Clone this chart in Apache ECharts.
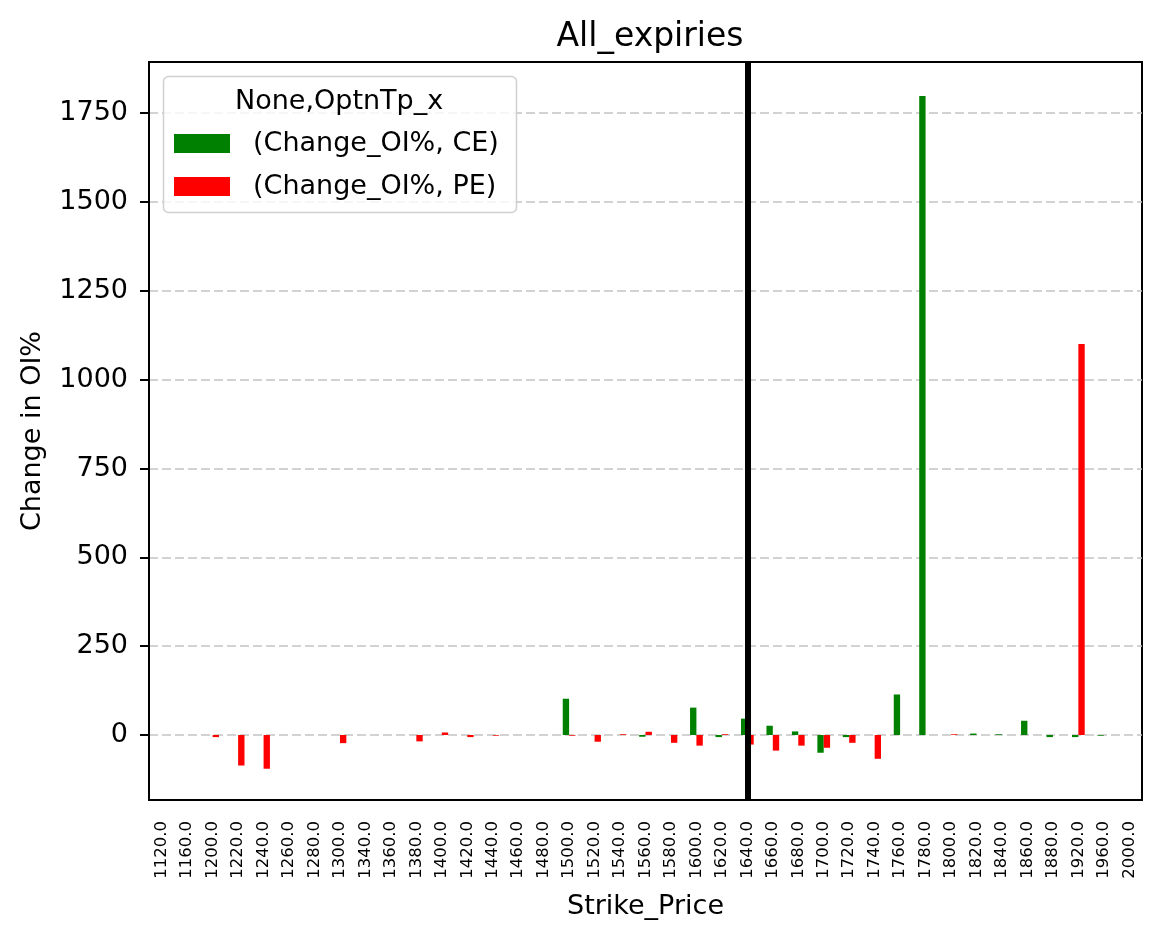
<!DOCTYPE html>
<html>
<head>
<meta charset="utf-8">
<title>All_expiries</title>
<script src="https://cdn.jsdelivr.net/npm/echarts@6/dist/echarts.min.js"></script>
<style>
    html, body { margin: 0; padding: 0; background: #fff; }
    #echarts1 { width: 1161px; height: 939px; }
</style>
</head>
<body>
<div id="echarts1"></div>
<script>
// strike prices (x categories)
var strikes = [1120, 1160, 1200, 1220, 1240, 1260, 1280, 1300, 1340, 1360,
    1380, 1400, 1420, 1440, 1460, 1480, 1500, 1520, 1540, 1560,
    1580, 1600, 1620, 1640, 1660, 1680, 1700, 1720, 1740, 1760,
    1780, 1800, 1820, 1840, 1860, 1880, 1920, 1960, 2000];

// (Change_OI%, CE)
var ceChange = [0, 0, 0, 0, 0, 0, 0, 0, 0, 0,
    0, 0, 0, 0, 0, 0, 102, 0, 0, -5,
    0, 77, -6, 46, 26, 10, -50, -6, 0, 114,
    1798, 0, 4, 2, 40, -6, -6, -2, 0];

// (Change_OI%, PE)
var peChange = [0, 0, -6, -86, -95, 0, 0, -23, 0, 0,
    -18, 7, -6, -2, 0, 0, -2, -19, 2, 9,
    -22, -30, 2, -27, -44, -30, -36, -22, -67, 0,
    0, 2, 0, 0, 0, 0, 1100, 0, 0];

var yTicks = [0, 250, 500, 750, 1000, 1250, 1500, 1750];
var spotStrike = 1640;

var FONT = 'DejaVu Sans';

window.onload = function () {
    var myChart = echarts.init(document.getElementById('echarts1'));
    var labels = strikes.map(function (s) { return s.toFixed(1); });

    var option = {
        animation: false,
        backgroundColor: '#fff',
        title: {
            text: 'All_expiries',
            left: 645,
            top: 16,
            textAlign: 'center',
            textStyle: { fontFamily: FONT, fontSize: 33, fontWeight: 'normal', color: '#000' }
        },
        // legend frame + legend title (matplotlib style)
        graphic: [{
            type: 'rect',
            z: 50,
            shape: { x: 163.5, y: 76.5, width: 353, height: 136, r: 5 },
            style: { fill: 'rgba(255,255,255,0.8)', stroke: '#d0d0d0', lineWidth: 1.5 }
        }, {
            type: 'text',
            z: 51,
            left: 235,
            top: 88,
            style: { text: 'None,OptnTp_x', fontFamily: FONT, fontSize: 27, fill: '#000' }
        }],
        legend: {
            orient: 'vertical',
            left: 174,
            top: 130,
            z: 60,
            itemWidth: 56,
            itemHeight: 19,
            itemGap: 16,
            icon: 'rect',
            padding: 0,
            textStyle: { fontFamily: FONT, fontSize: 27, color: '#000', padding: [0, 0, 0, 18] },
            data: ['(Change_OI%, CE)', '(Change_OI%, PE)']
        },
        grid: {
            left: 149,
            right: 19,
            top: 62,
            bottom: 139,
            show: true,
            borderColor: '#000',
            borderWidth: 2
        },
        xAxis: {
            type: 'category',
            data: labels,
            name: 'Strike_Price',
            nameLocation: 'middle',
            nameGap: 93,
            nameTextStyle: { fontFamily: FONT, fontSize: 27, color: '#000' },
            axisLine: { onZero: false, lineStyle: { color: '#000', width: 2 } },
            axisTick: { alignWithLabel: true, length: 9, lineStyle: { color: '#000', width: 2 } },
            axisLabel: {
                rotate: 90,
                interval: 0,
                fontFamily: FONT,
                fontSize: 16.5,
                color: '#000',
                margin: 21
            },
            splitLine: { show: false }
        },
        yAxis: {
            type: 'value',
            min: -183,
            max: 1894,
            name: 'Change in OI%',
            nameLocation: 'middle',
            nameGap: 103,
            nameTextStyle: { fontFamily: FONT, fontSize: 27, color: '#000' },
            axisLine: { show: true, lineStyle: { color: '#000', width: 2 } },
            axisTick: { show: true, length: 9, customValues: yTicks, lineStyle: { color: '#000', width: 2 } },
            axisLabel: {
                customValues: yTicks,
                fontFamily: FONT,
                fontSize: 27,
                color: '#000',
                margin: 21,
                formatter: function (v) { return String(v); }
            },
            splitLine: {
                show: true,
                lineStyle: { color: '#c4c4c4', type: [9, 4], width: 1.5 }
            }
        },
        series: [{
            name: '(Change_OI%, CE)',
            type: 'bar',
            data: ceChange,
            barGap: '0%',
            barCategoryGap: '50%',
            itemStyle: { color: '#008000' }
        }, {
            name: '(Change_OI%, PE)',
            type: 'bar',
            data: peChange,
            barGap: '0%',
            barCategoryGap: '50%',
            itemStyle: { color: '#ff0000' }
        }, {
            // spot strike marker
            name: 'spot',
            type: 'line',
            data: [],
            z: 5,
            markLine: {
                silent: true,
                symbol: 'none',
                label: { show: false },
                lineStyle: { color: '#000', width: 6, type: 'solid' },
                data: [{ xAxis: spotStrike.toFixed(1) }]
            }
        }]
    };
    myChart.setOption(option);
};
</script>
</body>
</html>
